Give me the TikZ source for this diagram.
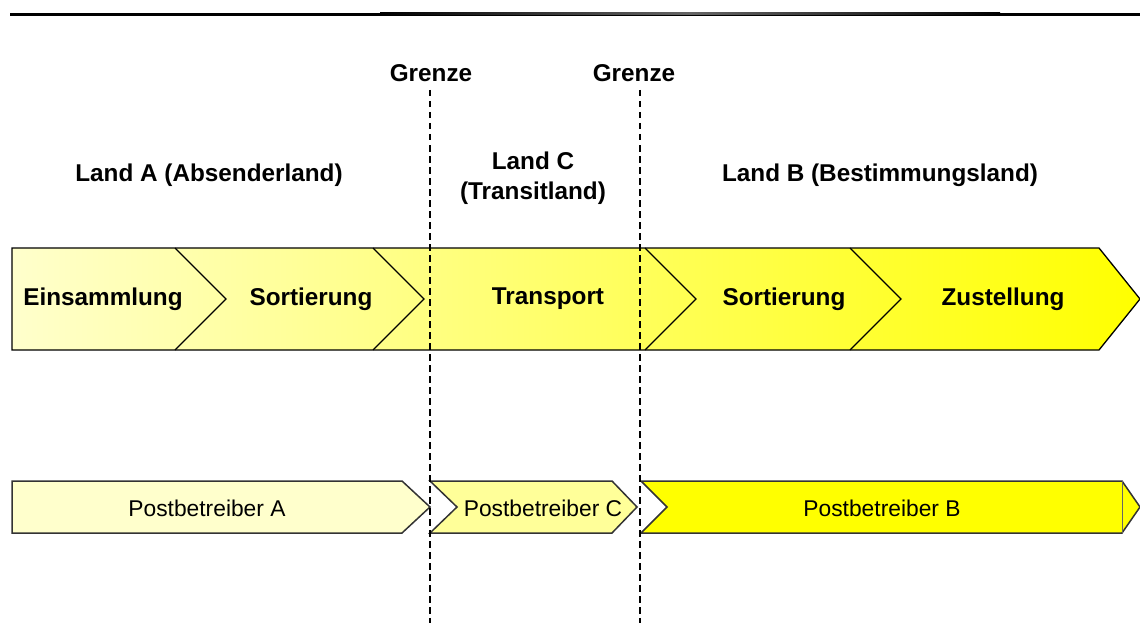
\documentclass[tikz,border=0pt]{standalone}
\usepackage{fontspec}
\setmainfont{Liberation Sans}
\definecolor{lyA}{RGB}{255,255,204}
\definecolor{lyB}{RGB}{255,255,150}
\definecolor{lyC}{RGB}{255,255,153}
\definecolor{ly}{RGB}{255,255,0}
\begin{document}
\begin{tikzpicture}[x=1pt,y=-1pt,
  lbl/.style={font=\fontsize{24.3}{30}\selectfont\bfseries, inner sep=0pt, align=center},
  plbl/.style={font=\fontsize{22.8}{27}\selectfont, inner sep=0pt},
  edge/.style={draw=black, line width=1.3pt, line join=miter},
  pedge/.style={draw=black!80, line width=1.5pt, line join=miter},
  grenze/.style={dash pattern=on 6.5pt off 4.5pt, line width=2pt}]
\useasboundingbox (0,0) rectangle (1140,623);
% top rule
\fill[black] (10,13) rectangle (1140,16.5);
\shade[left color=black, right color=black, middle color=black!60] (380,13) rectangle (1000,14.2);
% main band
\shade[left color=lyA, middle color=lyB, right color=ly]
  (12,248) -- (1099,248) -- (1140,299) -- (1099,350) -- (12,350) -- cycle;
\draw[edge] (12,248) -- (1099,248) -- (1140,299) -- (1099,350) -- (12,350) -- cycle;
\draw[edge] (175,248) -- (226,299) -- (175,350);
\draw[edge] (373,248) -- (424,299) -- (373,350);
\draw[edge] (645,248) -- (696,299) -- (645,350);
\draw[edge] (850,248) -- (901,299) -- (850,350);
% bottom row
\draw[pedge, fill=lyA] (12,481) -- (402,481) -- (430,507) -- (402,533) -- (12,533) -- cycle;
\draw[pedge, fill=lyC] (430,481) -- (612,481) -- (637,507) -- (612,533) -- (430,533) -- (457,507) -- cycle;
\draw[pedge, fill=ly] (641,481) -- (1122,481) -- (1140,507) -- (1122,533) -- (641,533) -- (667,507) -- cycle;
\draw[draw=black!60, line width=0.8pt] (1122,481) -- (1122,533);
% labels
\node[lbl] (g1) at (431,73) {Grenze};
\node[lbl] (g2) at (634,73) {Grenze};
\node[lbl] (la) at (209,175) {Land A (Absenderland)};
\node[lbl] (lc) at (533,178) {Land C\\(Transitland)};
\node[lbl] (lb) at (880,175) {Land B (Bestimmungsland)};
\node[lbl] (s1) at (103,299) {Einsammlung};
\node[lbl] (s2) at (311,299) {Sortierung};
\node[lbl] (s3) at (548,299) {Transport};
\node[lbl] (s4) at (784,299) {Sortierung};
\node[lbl] (s5) at (1003,299) {Zustellung};
\node[plbl] (pa) at (207,508) {Postbetreiber A};
\node[plbl] (pc) at (543,508) {Postbetreiber C};
\node[plbl] (pb) at (882,508) {Postbetreiber B};
% borders
\coordinate (g1a) at (430,90); \coordinate (g1b) at (430,623);
\coordinate (g2a) at (640,90); \coordinate (g2b) at (640,623);
\draw[grenze] (g1a) -- (g1b);
\draw[grenze] (g2a) -- (g2b);
\end{tikzpicture}
\end{document}
